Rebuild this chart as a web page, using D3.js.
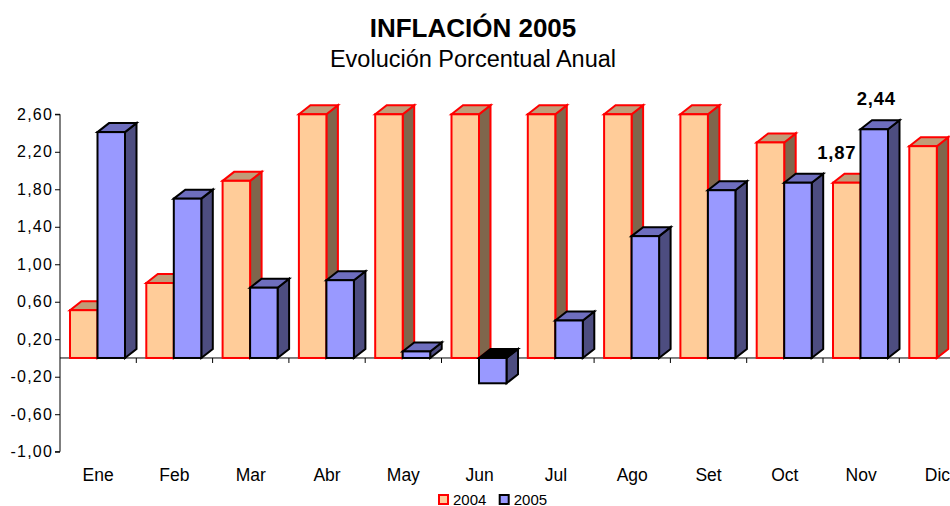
<!DOCTYPE html>
<html>
<head>
<meta charset="utf-8">
<script src="https://cdn.jsdelivr.net/npm/d3@7"></script>
<style>
  html, body { margin: 0; padding: 0; background: #fff; }
  svg { display: block; font-family: "Liberation Sans", Arial, sans-serif; }
</style>
</head>
<body>
<div id="chart"></div>
<script>
const months = ["Ene","Feb","Mar","Abr","May","Jun","Jul","Ago","Set","Oct","Nov","Dic"];
const series = ["2004","2005"];
const values2004 = [0.51, 0.80, 1.89, 2.60, 2.60, 2.60, 2.60, 2.60, 2.60, 2.30, 1.87, 2.26];
const values2005 = [2.41, 1.70, 0.75, 0.83, 0.07, -0.27, 0.40, 1.30, 1.79, 1.87, 2.44, null];
const yTicks = [-1.00, -0.60, -0.20, 0.20, 0.60, 1.00, 1.40, 1.80, 2.20, 2.60];
const dataLabels = [
  { month: "Nov", series: "2004", text: "1,87", dx: -10 },
  { month: "Nov", series: "2005", text: "2,44", dx: 2 }
];

const W = 950, H = 506;
const svg = d3.select("#chart").append("svg").attr("width", W).attr("height", H);

const x0 = d3.scaleBand().domain(months).range([60, 60 + 12 * 76.3]).padding(0);
const x1 = d3.scaleBand().domain(series).range([10, 65]).padding(0);
const y = d3.scaleLinear().domain([-1, 2.6]).range([451.7, 114.3]);

const DX = 11.5, DY = 9;
const styles = {
  "2004": { front: "#FFCC99", top: "#C09C78", side: "#7F664C", stroke: "#FF0000", topNeg: "#000" },
  "2005": { front: "#9999FF", top: "#6E6EBE", side: "#4D4D80", stroke: "#000000", topNeg: "#000" }
};

// Title
svg.append("text").attr("x", 473).attr("y", 37).attr("text-anchor", "middle")
  .attr("font-size", 26).attr("font-weight", "bold").text("INFLACIÓN 2005");
svg.append("text").attr("x", 473).attr("y", 67).attr("text-anchor", "middle")
  .attr("font-size", 23.5).text("Evolución Porcentual Anual");

// Y axis
const yAxis = d3.axisLeft(y).tickValues(yTicks).tickSize(5).tickPadding(2)
  .tickFormat(d => d3.format(".2f")(d).replace(".", ",").replace("−", "-"));
const gy = svg.append("g").attr("transform", "translate(60,0)").call(yAxis);
gy.select(".domain").attr("stroke", "#000").attr("d", `M-5,${y(2.6)}H0V${y(-1)}H-5`);
gy.selectAll(".tick line").attr("stroke", "#000");
gy.selectAll(".tick text").attr("font-size", 16).attr("letter-spacing", 1.2).attr("fill", "#000")
  .attr("font-family", "Liberation Sans, Arial, sans-serif");

// zero line
svg.append("line").attr("x1", 60).attr("x2", W).attr("y1", y(0)).attr("y2", y(0))
  .attr("stroke", "#000").attr("stroke-width", 1);

// category ticks
svg.append("g").selectAll("line").data(months.slice(1)).join("line")
  .attr("x1", d => x0(d)).attr("x2", d => x0(d))
  .attr("y1", y(0)).attr("y2", y(0) + 5).attr("stroke", "#000");

// category labels
svg.append("g").selectAll("text").data(months).join("text")
  .attr("x", d => x0(d) + x0.bandwidth() / 2)
  .attr("y", 481).attr("text-anchor", "middle").attr("font-size", 17.5).text(d => d);

// bars
const bars = [];
months.forEach((m, i) => {
  series.forEach(s => {
    const v = s === "2004" ? values2004[i] : values2005[i];
    if (v !== null && v !== undefined) bars.push({ m, s, v });
  });
});

const bw = x1.bandwidth();
const gb = svg.append("g");
bars.forEach(b => {
  const st = styles[b.s];
  const xl = x0(b.m) + x1(b.s);
  const xr = xl + bw;
  const yt = Math.min(y(b.v), y(0));
  const yb = Math.max(y(b.v), y(0));
  const g = gb.append("g").attr("stroke", st.stroke).attr("stroke-width", 2).attr("stroke-linejoin", "miter");
  g.append("path").attr("fill", st.side)
    .attr("d", `M${xr},${yt}L${xr + DX},${yt - DY}L${xr + DX},${yb - DY}L${xr},${yb}Z`);
  g.append("path").attr("fill", b.v < 0 ? st.topNeg : st.top)
    .attr("d", `M${xl},${yt}L${xl + DX},${yt - DY}L${xr + DX},${yt - DY}L${xr},${yt}Z`);
  g.append("rect").attr("x", xl).attr("y", yt).attr("width", bw).attr("height", yb - yt)
    .attr("fill", st.front);
});

// data labels
dataLabels.forEach(l => {
  const i = months.indexOf(l.month);
  const v = l.series === "2004" ? values2004[i] : values2005[i];
  svg.append("text")
    .attr("x", x0(l.month) + x1(l.series) + bw / 2 + l.dx)
    .attr("y", y(v) - 24).attr("text-anchor", "middle")
    .attr("font-size", 18.5).attr("letter-spacing", 0.8).attr("font-weight", "bold").text(l.text);
});

// legend
const leg = svg.append("g").attr("transform", "translate(438,495)");
series.forEach((s, i) => {
  const g = leg.append("g").attr("transform", `translate(${i * 60.7},0)`);
  g.append("rect").attr("x", 1).attr("y", 0).attr("width", 9).attr("height", 9)
    .attr("fill", styles[s].front).attr("stroke", styles[s].stroke).attr("stroke-width", 2);
  g.append("text").attr("x", 15).attr("y", 9.5).attr("font-size", 15).text(s);
});
</script>
</body>
</html>
